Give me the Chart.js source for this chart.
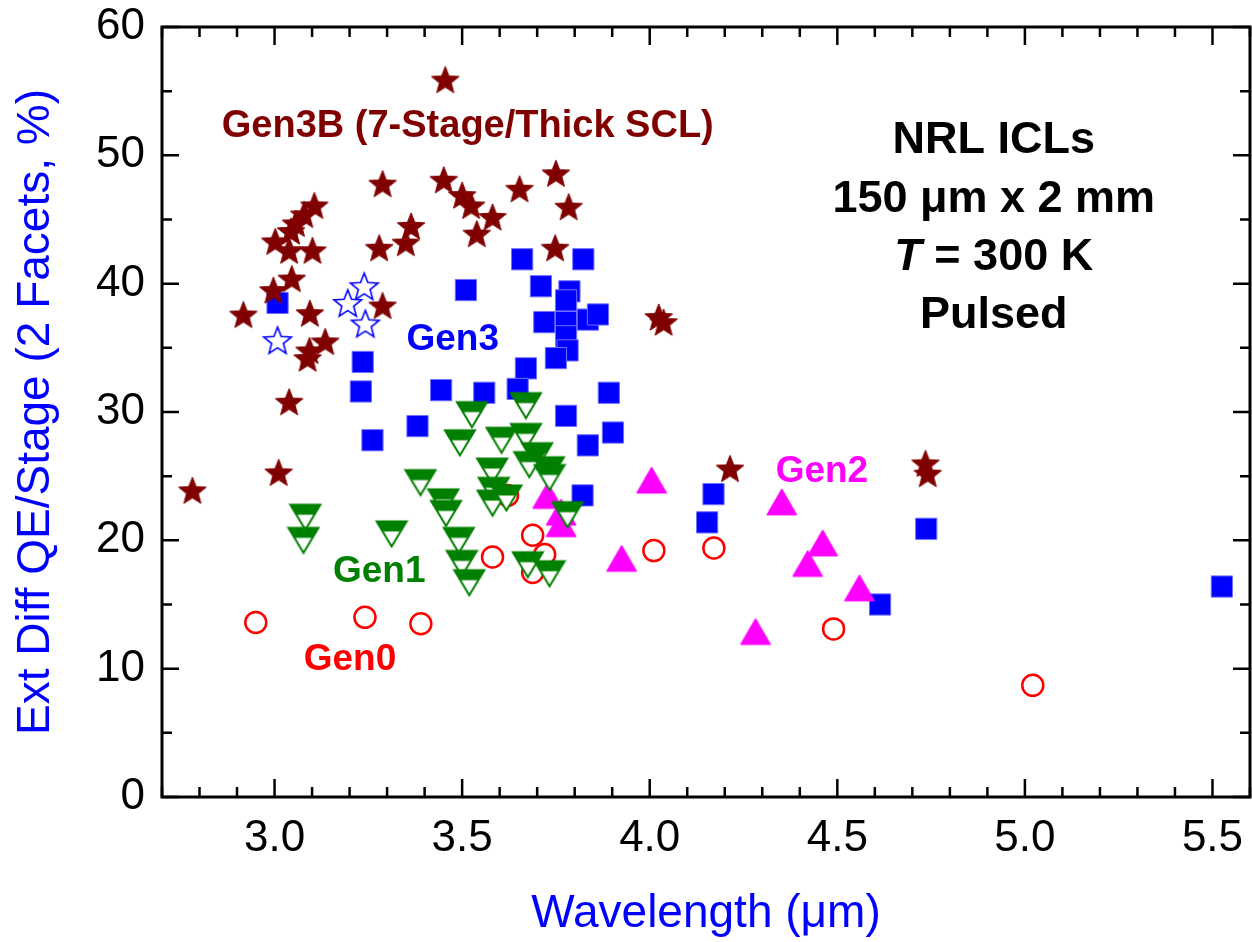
<!DOCTYPE html>
<html>
<head>
<meta charset="utf-8">
<script src="https://cdn.jsdelivr.net/npm/chart.js@4.4.1/dist/chart.umd.min.js"></script>
<style>
  html, body { margin: 0; padding: 0; background: #fff; overflow: hidden; }
  #qeChart { display: block; }
</style>
</head>
<body>
<canvas id="qeChart" width="1252" height="942"></canvas>
<script>
const FONT = '"Liberation Sans", Arial, Helvetica, sans-serif';

// axis ticks
const xTicks = [3.0, 3.5, 4.0, 4.5, 5.0, 5.5];
const yTicks = [0, 10, 20, 30, 40, 50, 60];

// Gen0 - open red circles
const gen0Wl = [3.621, 3.688, 3.720, 3.688, 3.581, 2.950, 3.241, 3.390, 4.011, 4.171, 4.490, 5.021];
const gen0QE = [23.5, 20.4, 18.9, 17.5, 18.7, 13.6, 14.0, 13.5, 19.2, 19.4, 13.1, 8.7];

// Gen1 - green down triangles
const gen1Wl = [3.082, 3.077, 3.312, 3.389, 3.450, 3.457, 3.491, 3.499, 3.519, 3.526, 3.494, 3.605, 3.670,
  3.670, 3.700, 3.679, 3.731, 3.733, 3.580, 3.584, 3.581, 3.618, 3.781, 3.675, 3.733];
const gen1QE = [21.8, 20.0, 20.5, 24.5, 23.0, 22.1, 20.0, 18.2, 16.7, 29.8, 27.6, 27.8, 30.5,
  28.1, 26.6, 25.9, 25.5, 24.9, 25.4, 23.9, 22.9, 23.3, 22.0, 18.1, 17.4];

// Gen2 - magenta triangles
const gen2Wl = [4.005, 3.925, 4.352, 4.461, 4.421, 4.559, 4.282, 3.728, 3.764, 3.764];
const gen2QE = [24.7, 18.6, 23.0, 19.8, 18.2, 16.3, 12.9, 23.5, 22.2, 21.3];

// Gen3 - blue squares
const gen3Wl = [3.008, 3.510, 3.660, 3.823, 3.710, 3.786, 3.777, 3.719, 3.777, 3.835, 3.862, 3.777,
  3.781, 3.750, 3.670, 3.648, 3.559, 3.444, 3.235, 3.230, 3.381, 3.261, 3.777, 3.835, 3.902, 3.891,
  3.821, 4.170, 4.153, 4.737, 4.614, 5.525];
const gen3QE = [38.5, 39.5, 41.9, 41.9, 39.8, 39.4, 38.7, 37.0, 37.0, 37.2, 37.6, 35.9,
  34.8, 34.2, 33.4, 31.8, 31.5, 31.7, 33.9, 31.6, 28.9, 27.8, 29.7, 27.4, 28.4, 31.5,
  23.5, 23.6, 21.4, 20.9, 15.0, 16.4];

// Gen3 - open blue stars
const gen3OpenWl = [3.239, 3.195, 3.242, 3.008];
const gen3OpenQE = [39.8, 38.5, 36.9, 35.6];

// Gen3B - dark red stars
const gen3bWl = [3.455, 3.288, 3.451, 3.500, 3.524, 3.581, 3.539, 3.653, 3.750, 3.784, 3.748, 3.106,
  3.079, 3.057, 3.044, 3.002, 3.039, 3.101, 3.279, 3.364, 3.350, 3.046, 2.997, 2.917, 3.094, 3.288,
  3.135, 3.093, 3.088, 3.039, 3.011, 2.781, 4.024, 4.037, 4.214, 4.735, 4.741];
const gen3bQE = [55.9, 47.8, 48.1, 46.9, 46.1, 45.2, 43.9, 47.4, 48.6, 46.0, 42.8, 46.1,
  45.4, 44.7, 44.1, 43.3, 42.6, 42.6, 42.8, 44.5, 43.2, 40.4, 39.5, 37.6, 37.7, 38.3,
  35.5, 34.8, 34.2, 30.8, 25.3, 23.9, 37.4, 37.0, 25.6, 26.0, 25.2];

function toPoints(xs, ys) {
  return xs.map((x, i) => ({ x: x, y: ys[i] }));
}

// ---- marker images ----
function starPath(ctx, cx, cy, R, r) {
  ctx.beginPath();
  for (let i = 0; i < 10; i++) {
    const rad = i % 2 === 0 ? R : r;
    const a = -Math.PI / 2 + i * Math.PI / 5;
    ctx.lineTo(cx + rad * Math.cos(a), cy + rad * Math.sin(a));
  }
  ctx.closePath();
}

function makeStar(fill, stroke, lw) {
  const c = document.createElement("canvas");
  c.width = 34;
  c.height = 34;
  const ctx = c.getContext("2d");
  const R = 14.5;
  starPath(ctx, 17, 17 + 0.095 * R, R, R * 0.43);
  ctx.fillStyle = fill;
  ctx.fill();
  ctx.lineWidth = lw;
  ctx.strokeStyle = stroke;
  ctx.stroke();
  return c;
}

function makeDownTriangle(color) {
  const c = document.createElement("canvas");
  c.width = 34;
  c.height = 30;
  const ctx = c.getContext("2d");
  ctx.beginPath();
  ctx.moveTo(2, 2.5);
  ctx.lineTo(32, 2.5);
  ctx.lineTo(17, 27.5);
  ctx.closePath();
  ctx.fillStyle = "#fff";
  ctx.fill();
  ctx.save();
  ctx.clip();
  ctx.fillStyle = color;
  ctx.fillRect(0, 0, 34, 12.5);
  ctx.restore();
  ctx.lineWidth = 2;
  ctx.strokeStyle = color;
  ctx.stroke();
  return c;
}

function makeUpTriangle(color) {
  const c = document.createElement("canvas");
  c.width = 34;
  c.height = 30;
  const ctx = c.getContext("2d");
  ctx.beginPath();
  ctx.moveTo(17, 2);
  ctx.lineTo(32, 28);
  ctx.lineTo(2, 28);
  ctx.closePath();
  ctx.fillStyle = color;
  ctx.fill();
  ctx.lineWidth = 1;
  ctx.strokeStyle = color;
  ctx.stroke();
  return c;
}

const starFilled = makeStar("#800000", "#800000", 1);
const starOpen = makeStar("#fff", "#0000ff", 1.6);
const triDown = makeDownTriangle("#008000");
const triUp = makeUpTriangle("#ff00ff");

// ---- frame with inward ticks + text labels ----
const frame = {
  id: "frame",
  afterDatasetsDraw(chart) {
    const { ctx, chartArea: a, scales } = chart;
    const xs = scales.x;
    const ys = scales.y;
    ctx.save();
    ctx.strokeStyle = "#000";
    ctx.lineWidth = 3;
    ctx.strokeRect(a.left, a.top, a.right - a.left, a.bottom - a.top);

    ctx.lineWidth = 2.5;
    ctx.beginPath();
    for (let v = 2.7; v <= 5.6001; v += 0.1) {
      const px = xs.getPixelForValue(v);
      const major = xTicks.some((t) => Math.abs(t - v) < 1e-6);
      const len = major ? 18 : 10;
      ctx.moveTo(px, a.bottom);
      ctx.lineTo(px, a.bottom - len);
      ctx.moveTo(px, a.top);
      ctx.lineTo(px, a.top + len);
    }
    for (let v = 0; v <= 60; v += 5) {
      const py = ys.getPixelForValue(v);
      const major = v % 10 === 0;
      const len = major ? 17 : 10;
      ctx.moveTo(a.left, py);
      ctx.lineTo(a.left + len, py);
      ctx.moveTo(a.right, py);
      ctx.lineTo(a.right - len, py);
    }
    ctx.stroke();

    const X = (v) => xs.getPixelForValue(v);
    const Y = (v) => ys.getPixelForValue(v);
    ctx.textAlign = "center";
    ctx.textBaseline = "alphabetic";
    const notes = [
      { t: "Gen3B (7-Stage/Thick SCL)", x: 3.515, y: 51.4, c: "#800000", s: 38 },
      { t: "Gen3", x: 3.475, y: 34.8, c: "#0000ff", s: 37 },
      { t: "Gen1", x: 3.279, y: 16.75, c: "#008000", s: 37 },
      { t: "Gen0", x: 3.201, y: 9.88, c: "#ff0000", s: 37 },
      { t: "Gen2", x: 4.459, y: 24.54, c: "#ff00ff", s: 37 },
      { t: "NRL ICLs", x: 4.917, y: 50.2, c: "#000", s: 45 },
      { t: "150 \u03bcm x 2 mm", x: 4.917, y: 45.6, c: "#000", s: 45 },
      { t: "Pulsed", x: 4.917, y: 36.55, c: "#000", s: 45 },
    ];
    notes.forEach((n) => {
      ctx.font = `bold ${n.s}px ${FONT}`;
      ctx.fillStyle = n.c;
      ctx.fillText(n.t, X(n.x), Y(n.y));
    });

    // "T = 300 K" with italic T
    ctx.fillStyle = "#000";
    ctx.textAlign = "left";
    ctx.font = `italic bold 45px ${FONT}`;
    const wT = ctx.measureText("T").width;
    ctx.font = `bold 45px ${FONT}`;
    const rest = " = 300 K";
    const wR = ctx.measureText(rest).width;
    const x0 = X(4.917) - (wT + wR) / 2;
    const yb = Y(41.07);
    ctx.font = `italic bold 45px ${FONT}`;
    ctx.fillText("T", x0, yb);
    ctx.font = `bold 45px ${FONT}`;
    ctx.fillText(rest, x0 + wT, yb);
    ctx.restore();
  },
};

const chart = new Chart(document.getElementById("qeChart"), {
  type: "scatter",
  data: {
    datasets: [
      {
        label: "Gen3B",
        data: toPoints(gen3bWl, gen3bQE),
        pointStyle: starFilled,
      },
      {
        label: "Gen1",
        data: toPoints(gen1Wl, gen1QE),
        pointStyle: triDown,
      },
      {
        label: "Gen2",
        data: toPoints(gen2Wl, gen2QE),
        pointStyle: triUp,
      },
      {
        label: "Gen0",
        data: toPoints(gen0Wl, gen0QE),
        pointStyle: "circle",
        pointRadius: 10.5,
        pointBorderWidth: 2.5,
        pointBorderColor: "#ff0000",
        pointBackgroundColor: "rgba(0,0,0,0)",
      },
      {
        label: "Gen3",
        data: toPoints(gen3Wl, gen3QE),
        pointStyle: "rect",
        pointRadius: 15,
        pointBorderWidth: 1,
        pointBorderColor: "#6f6fff",
        pointBackgroundColor: "#0000ff",
      },
      {
        label: "Gen3 open",
        data: toPoints(gen3OpenWl, gen3OpenQE),
        pointStyle: starOpen,
      },
    ],
  },
  options: {
    responsive: false,
    animation: false,
    events: [],
    layout: { autoPadding: false, padding: { top: 27, right: 2, left: 0, bottom: 0 } },
    plugins: {
      legend: { display: false },
      tooltip: { enabled: false },
    },
    scales: {
      x: {
        type: "linear",
        min: 2.7,
        max: 5.6,
        afterBuildTicks: (s) => {
          s.ticks = xTicks.map((v) => ({ value: v }));
        },
        afterFit: (s) => {
          s.height = 145;
          s.paddingLeft = 0;
          s.paddingRight = 0;
        },
        grid: { display: false, drawTicks: false },
        border: { display: false },
        ticks: {
          autoSkip: false,
          maxRotation: 0,
          padding: 0,
          color: "#000",
          font: { family: FONT, size: 44, lineHeight: 1.88 },
          callback: (v) => Number(v).toFixed(1),
        },
        title: {
          display: true,
          text: "Wavelength (\u03bcm)",
          color: "#0000ff",
          font: { family: FONT, size: 46, lineHeight: 1.2 },
          padding: { top: 0, bottom: 0 },
        },
      },
      y: {
        type: "linear",
        min: 0,
        max: 60,
        afterBuildTicks: (s) => {
          s.ticks = yTicks.map((v) => ({ value: v }));
        },
        afterFit: (s) => {
          s.width = 162;
          s.paddingTop = 0;
          s.paddingBottom = 0;
        },
        grid: { display: false, drawTicks: false },
        border: { display: false },
        ticks: {
          padding: 17,
          color: "#000",
          font: { family: FONT, size: 44 },
        },
        title: {
          display: true,
          text: "Ext Diff QE/Stage (2 Facets, %)",
          color: "#0000ff",
          font: { family: FONT, size: 46, lineHeight: 1.2 },
          padding: { top: 9, bottom: 0 },
        },
      },
    },
  },
  plugins: [frame],
});
</script>
</body>
</html>
